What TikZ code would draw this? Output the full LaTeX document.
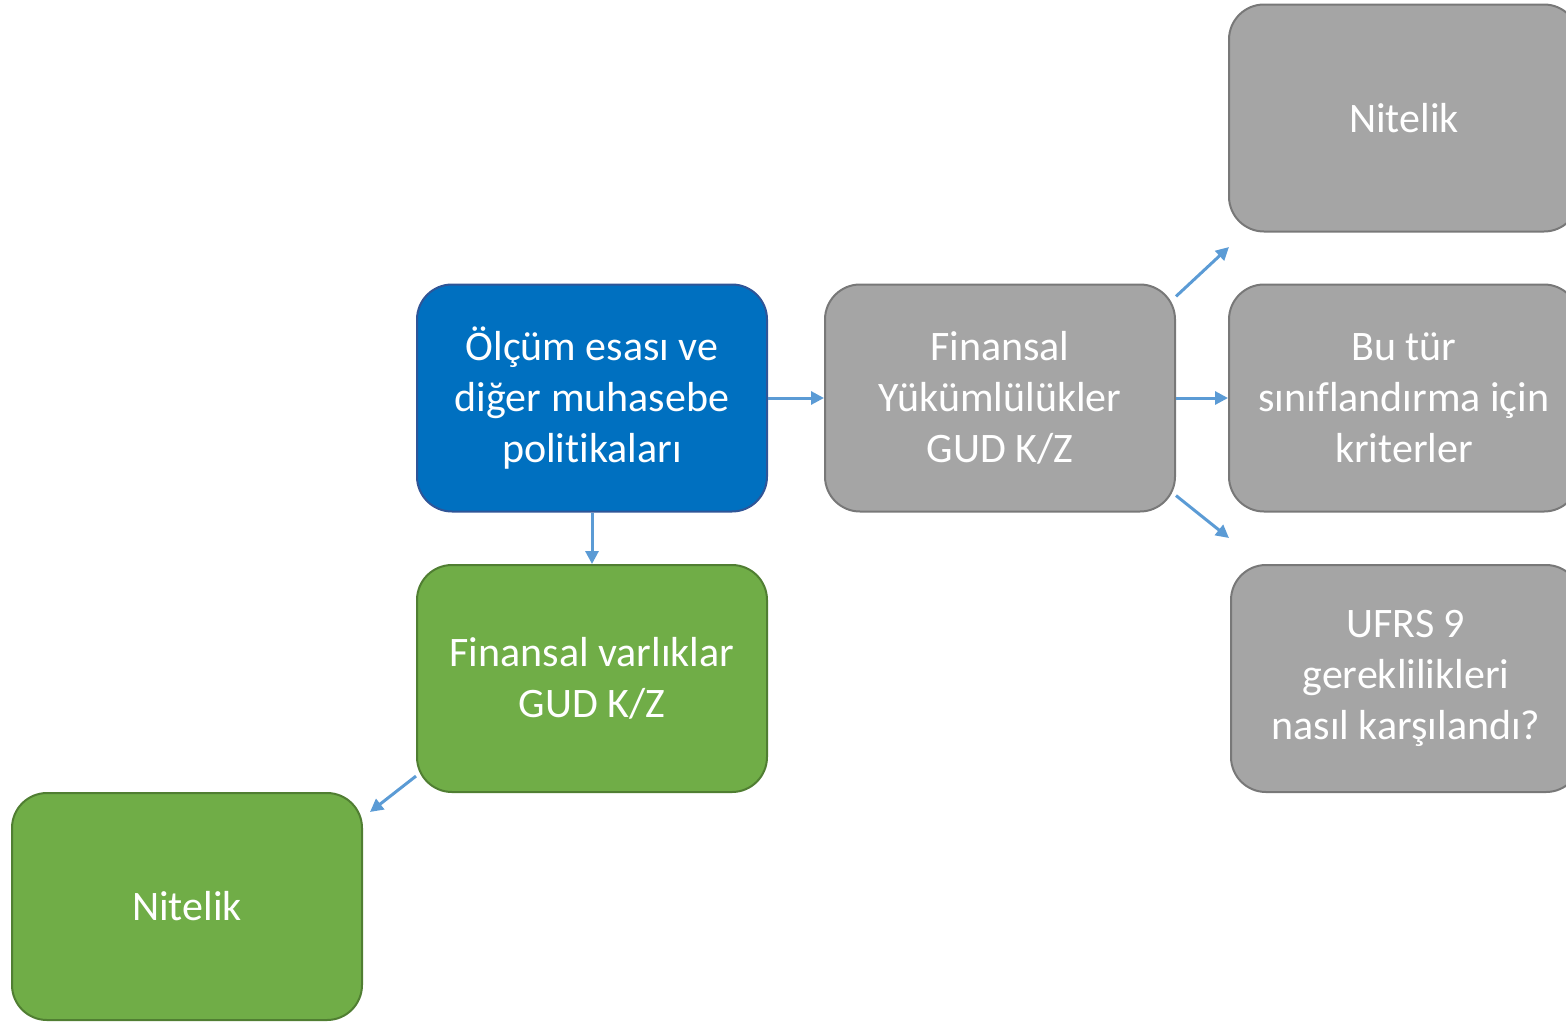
\documentclass[tikz,border=0pt]{standalone}
\usepackage{fontspec}
\setmainfont{Carlito}[RawFeature=-liga]
\usetikzlibrary{arrows.meta}
\definecolor{bbfill}{HTML}{0070C0}
\definecolor{bbdraw}{HTML}{2F5597}
\definecolor{gfill}{HTML}{70AD47}
\definecolor{gdraw}{HTML}{507E32}
\definecolor{kfill}{HTML}{A5A5A5}
\definecolor{kdraw}{HTML}{787878}
\definecolor{arr}{HTML}{5B9BD5}
\tikzset{
  box/.style={rectangle, rounded corners=35pt, minimum width=350pt, minimum height=227pt,
    line width=2pt, align=center, text=white, inner sep=0pt,
    font=\fontsize{42}{51}\selectfont},
  bluebox/.style={box, fill=bbfill, draw=bbdraw},
  greenbox/.style={box, fill=gfill, draw=gdraw},
  graybox/.style={box, fill=kfill, draw=kdraw},
  conn/.style={draw=arr, line width=3pt, -{Triangle[length=13pt,width=13pt]}},
}
\begin{document}
\begin{tikzpicture}[x=1pt,y=-1pt]
\useasboundingbox (0,0) rectangle (1566,1021);
\clip (0,0) rectangle (1566,1021);
\node[bluebox] (olc) at (592,398) {Ölçüm esası ve\\diğer muhasebe\\politikaları};
\node[greenbox] (fv) at (592,678.5) {Finansal varlıklar\\GUD K/Z};
\node[greenbox] (nit2) at (187,906.5) {Nitelik};
\node[graybox] (fy) at (1000,398) {Finansal\\Yükümlülükler\\GUD K/Z};
\node[graybox] (nit1) at (1404,118) {Nitelik};
\node[graybox] (kri) at (1404,398) {Bu tür\\sınıflandırma için\\kriterler};
\node[graybox] (ufrs) at (1406,678.5) {UFRS 9\\gereklilikleri\\nasıl karşılandı?};
\coordinate (e1) at (370,812);
\coordinate (e2) at (1229,247);
\coordinate (e3) at (1229,538);
\draw[conn] (olc.east) -- (fy.west);
\draw[conn] (olc.south) -- (fv.north);
\draw[conn] (fv.209) -- (e1);
\draw[conn] (fy.30) -- (e2);
\draw[conn] (fy.east) -- (kri.west);
\draw[conn] (fy.-29) -- (e3);
\end{tikzpicture}
\end{document}
